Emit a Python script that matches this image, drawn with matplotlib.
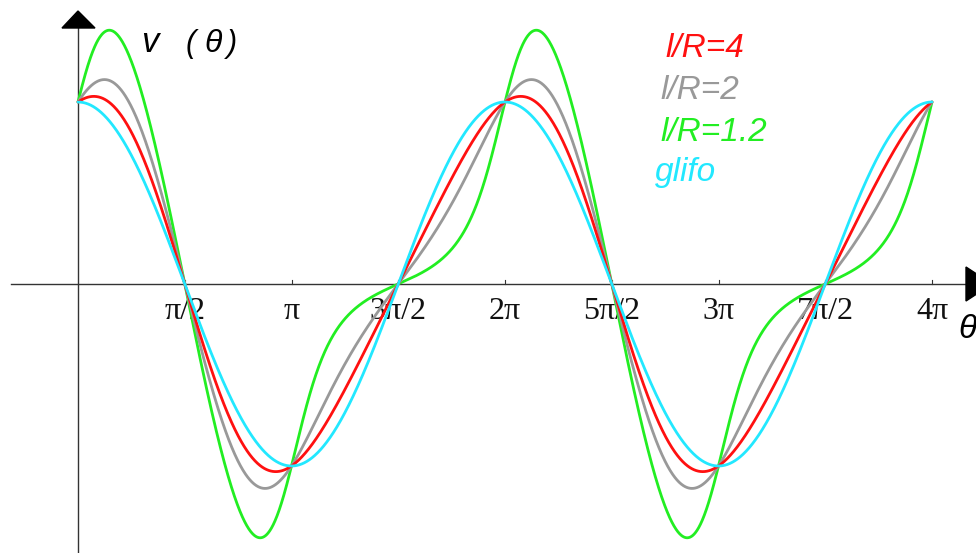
import numpy as np
import matplotlib
matplotlib.use("Agg")
import matplotlib.pyplot as plt
from matplotlib.patches import Polygon

# ---- data ----
series_labels = ["l/R=4", "l/R=2", "l/R=1.2", "glifo"]
l_over_R = [4.0, 2.0, 1.2, None]          # None -> Scotch yoke (glifo)
series_colors = ["#ff1010", "#999999", "#22ee22", "#22e8ff"]
tick_multiples = [0.5, 1.0, 1.5, 2.0, 2.5, 3.0, 3.5, 4.0]
tick_labels = ["π/2", "π", "3π/2", "2π", "5π/2", "3π", "7π/2", "4π"]

W, H = 976, 553
fig = plt.figure(figsize=(W / 100, H / 100), dpi=100)
ax = fig.add_axes([0, 0, 1, 1])
ax.set_axis_off()

x0px, pipx, y0px, amp = 78.0, 213.5, 284.0, 182.0
ax.set_xlim(-x0px / pipx * np.pi, (W - x0px) / pipx * np.pi)
ax.set_ylim(-(H - y0px) / amp, y0px / amp)

theta = np.linspace(0, 4 * np.pi, 2000)


def velocity(th, ratio):
    if ratio is None:
        return np.cos(th)
    lam = 1.0 / ratio
    return np.cos(th) + 0.5 * lam * np.sin(2 * th) / np.sqrt(1 - lam ** 2 * np.cos(th) ** 2)


# axes lines
ax.plot([-(x0px - 11) / pipx * np.pi, (970 - x0px) / pipx * np.pi], [0, 0],
        color="#333333", lw=1.0, zorder=1)
ax.plot([0, 0], [-(H - y0px) / amp, (y0px - 20) / amp], color="#333333", lw=1.0, zorder=1)

# ticks and labels
for m, lab in zip(tick_multiples, tick_labels):
    ax.plot([m * np.pi, m * np.pi], [0, 4 / amp], color="#333333", lw=0.8, zorder=1)
    ax.text(m * np.pi, -(319 - y0px) / amp, lab, ha="center", va="baseline",
            fontsize=23, family="Liberation Serif", color="#111111", zorder=2)

# arrowheads (figure pixel coords)
def px(pts):
    return [(x / W, 1 - y / H) for x, y in pts]

fig.patches.append(Polygon(px([(62, 28), (95, 28), (78, 11)]), closed=True,
                           transform=fig.transFigure, color="black"))
fig.patches.append(Polygon(px([(966, 267), (966, 301), (992, 284)]), closed=True,
                           transform=fig.transFigure, color="black"))

# curves
order = [2, 1, 0, 3]
for i in order:
    ax.plot(theta, velocity(theta, l_over_R[i]), color=series_colors[i], lw=2.0,
            zorder=5 + order.index(i), solid_capstyle="round")

# legend texts
legend_pos = [(665, 57), (660, 99), (660, 141), (655, 181)]
for lab, col, (lx, ly) in zip(series_labels, series_colors, legend_pos):
    fig.text(lx / W, 1 - ly / H, lab, color=col, fontsize=24, style="italic",
             family="Liberation Sans", ha="left", va="baseline")

# axis labels: "v (θ)" pieces
for s, xx, fs in [("v", 141, 25), ("(", 186, 22), ("θ", 204, 23), (")", 227, 22)]:
    fig.text(xx / W, 1 - 52 / H, s, fontsize=fs, style="italic",
             family="Liberation Sans", ha="left", va="baseline", color="black")
fig.text(958 / W, 1 - 338 / H, "θ", fontsize=24, style="italic",
         family="Liberation Sans", ha="left", va="baseline", color="black")

fig.savefig("out.png", dpi=100)
